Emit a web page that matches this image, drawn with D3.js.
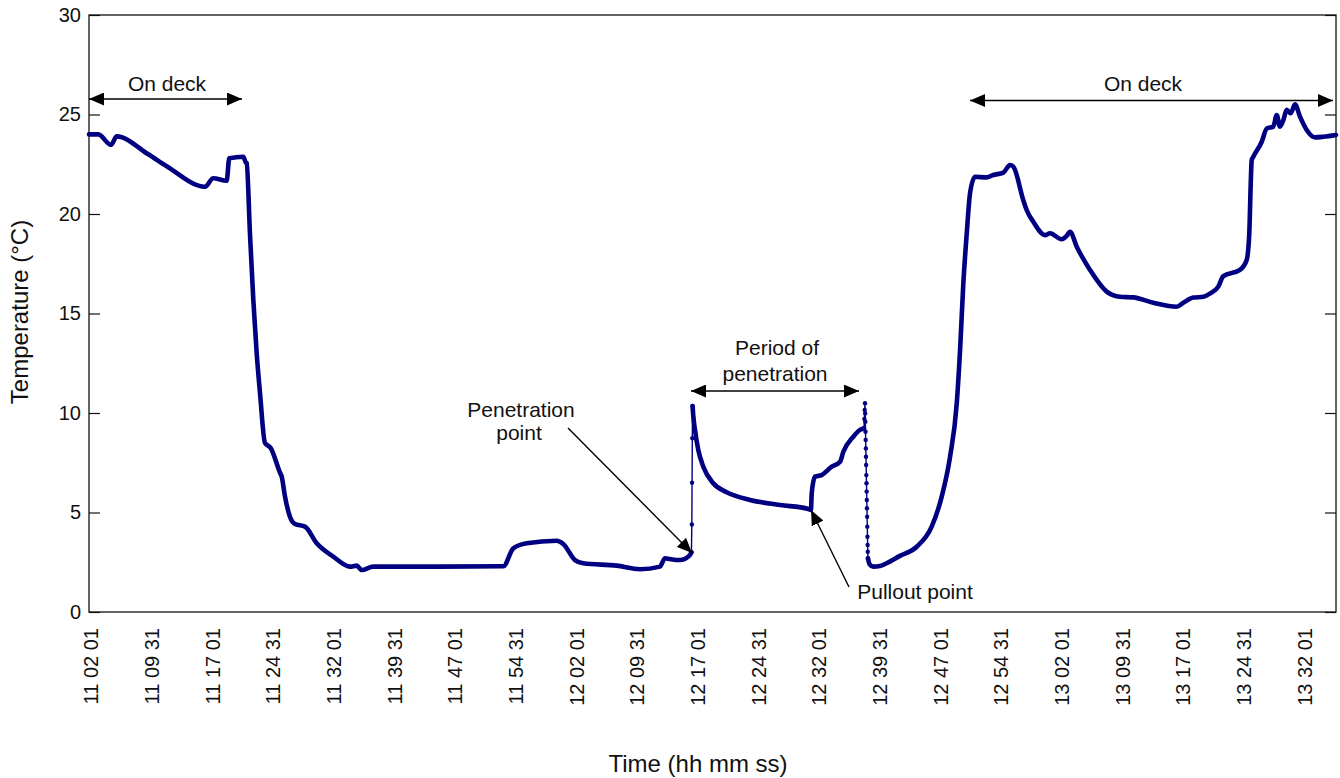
<!DOCTYPE html>
<html>
<head>
<meta charset="utf-8">
<script src="https://cdn.jsdelivr.net/npm/d3@7"></script>
<style>
  html, body { margin: 0; padding: 0; background: #fff; }
  svg { display: block; }
  text { font-family: "Liberation Sans", Arial, Helvetica, sans-serif; fill: #111; }
</style>
</head>
<body>
<svg id="chart" width="1340" height="778"></svg>
<script>
// Probe temperature log, time in minutes after 11:00:00
const minutes = [1.81, 2.96, 4.53, 5.23, 9.14, 11.41, 16.15, 17.17, 18.83, 19.15, 20.88, 21.18,
  21.30, 21.71, 22.12, 22.54, 22.95, 23.56, 24.27, 25.42, 25.63, 26.04, 26.65, 27.27, 28.51,
  29.96, 32.01, 34.07, 34.90, 35.52, 36.95, 45.00, 53.03, 54.26, 55.92, 59.63, 60.44, 61.88,
  62.91, 67.04, 69.92, 72.39, 73.01, 73.62, 74.86, 76.09, 76.28,
  76.42, 76.50, 76.72, 77.13, 77.75, 78.98, 80.64, 83.52, 87.23, 90.73, 91.06, 91.15, 91.56,
  92.38, 93.62, 94.65, 95.06, 96.29, 97.12, 97.61,
  98.10, 98.30, 98.77, 99.59, 100.42, 102.06, 104.13, 105.98, 107.22, 108.25, 109.08, 109.49,
  109.89, 110.31, 110.72, 111.34, 112.78, 113.60, 114.84, 115.66, 116.07, 117.30, 117.72,
  118.54, 119.99, 120.60, 122.05, 122.67, 123.08, 123.91, 125.55, 127.61, 129.26, 130.90,
  133.38, 136.27, 137.08, 138.32, 139.56, 140.38, 141.41, 142.03, 144.09, 144.92, 145.24,
  145.42, 145.54, 145.74, 146.78, 147.40, 148.21, 148.63, 149.04, 149.45, 149.87, 150.36,
  150.89, 151.51, 152.34, 153.36, 154.39, 155.96];
const tempC = [24.0, 24.0, 23.47, 23.9, 23.0, 22.4, 21.37, 21.8, 21.67, 22.8, 22.88, 22.6,
  22.56, 19.0, 15.7, 13.0, 11.0, 8.5, 8.24, 7.0, 6.8, 5.8, 4.79, 4.42, 4.29,
  3.45, 2.78, 2.28, 2.33, 2.11, 2.28, 2.28, 2.30, 3.2, 3.45, 3.58, 3.42, 2.61,
  2.45, 2.33, 2.15, 2.28, 2.7, 2.66, 2.61, 2.86, 3.0,
  10.35, 9.9, 9.15, 8.14, 7.3, 6.47, 6.02, 5.63, 5.38, 5.18, 5.13, 5.96, 6.8,
  6.88, 7.3, 7.55, 8.05, 8.81, 9.15, 9.23,
  2.70, 2.40, 2.28, 2.31, 2.45, 2.82, 3.28, 4.29, 5.8, 7.8, 10.49, 13.17,
  16.5, 19.0, 21.04, 21.87, 21.84, 21.96, 22.08, 22.46, 22.38, 20.7, 20.2,
  19.61, 18.94, 19.03, 18.73, 18.9, 19.11, 18.36, 17.19, 16.1, 15.84, 15.81,
  15.54, 15.34, 15.54, 15.8, 15.84, 16.0, 16.35, 16.88, 17.19, 17.69, 19.03,
  21.54, 22.71, 22.88, 23.63, 24.3, 24.39, 24.97, 24.39, 24.72, 25.23, 25.06,
  25.51, 24.89, 24.22, 23.85, 23.88, 23.97];

// Individual readings during the fast transitions (penetration and pullout)
const penetrationMinutes = [76.28, 76.33, 76.36, 76.39, 76.42];
const penetrationTemp = [3.0, 4.4, 6.5, 8.73, 10.35];
const pulloutMinutes = [97.61, 97.66, 97.70, 97.74, 97.76, 97.78, 97.80, 97.82, 97.84, 97.86,
  97.88, 97.90, 97.92, 97.94, 97.96, 97.98, 98.00, 98.02, 98.04, 98.06, 98.08, 98.10];
const pulloutTemp = [9.23, 9.7, 10.15, 10.49, 9.98, 9.56, 9.06, 8.64, 8.22, 7.80,
  7.39, 6.88, 6.47, 6.05, 5.63, 5.21, 4.79, 4.29, 3.78, 3.37, 3.03, 2.70];

const timeDomain = [1.81, 155.96];
const tickMinutes = [2.02, 9.52, 17.02, 24.52, 32.02, 39.52, 47.02, 54.52, 62.02, 69.52, 77.02,
  84.52, 92.02, 99.52, 107.02, 114.52, 122.02, 129.52, 137.02, 144.52, 152.02];
const tickLabels = ["11 02 01", "11 09 31", "11 17 01", "11 24 31", "11 32 01", "11 39 31",
  "11 47 01", "11 54 31", "12 02 01", "12 09 31", "12 17 01", "12 24 31", "12 32 01",
  "12 39 31", "12 47 01", "12 54 31", "13 02 01", "13 09 31", "13 17 01", "13 24 31", "13 32 01"];
const tempTicks = [0, 5, 10, 15, 20, 25, 30];

const svg = d3.select("#chart");
const plot = { left: 89, right: 1336, top: 15, bottom: 612 };
const navy = "#000080";

const x = d3.scaleLinear().domain(timeDomain).range([plot.left, plot.right]);
const y = d3.scaleLinear().domain([0, 30]).range([plot.bottom, plot.top]);

// arrow head marker
const defs = svg.append("defs");
defs.append("marker")
  .attr("id", "head")
  .attr("markerUnits", "userSpaceOnUse")
  .attr("viewBox", "0 0 15 13")
  .attr("markerWidth", 15).attr("markerHeight", 13)
  .attr("refX", 15).attr("refY", 6.5)
  .attr("orient", "auto-start-reverse")
  .append("path").attr("d", "M0,0 L15,6.5 L0,13 Z").attr("fill", "#000");

// left axis with inward ticks
const yAxisL = svg.append("g")
  .attr("transform", `translate(${plot.left},0)`)
  .call(d3.axisLeft(y).tickValues(tempTicks).tickSize(-11).tickPadding(8));
yAxisL.select(".domain").remove();
yAxisL.selectAll("line").attr("stroke", "#111").attr("stroke-width", 1.2);
yAxisL.selectAll("text").style("font-size", "20px").attr("fill", "#111");

// right axis, ticks only
const yAxisR = svg.append("g")
  .attr("transform", `translate(${plot.right},0)`)
  .call(d3.axisRight(y).tickValues(tempTicks).tickSize(-11).tickFormat(""));
yAxisR.select(".domain").remove();
yAxisR.selectAll("line").attr("stroke", "#111").attr("stroke-width", 1.2);

// bottom axis: rotated time labels
const xAxis = svg.append("g")
  .attr("transform", `translate(0,${plot.bottom})`)
  .call(d3.axisBottom(x).tickValues(tickMinutes).tickSize(0)
    .tickFormat((d, i) => tickLabels[i]));
xAxis.select(".domain").remove();
xAxis.selectAll("text")
  .style("font-size", "20px")
  .attr("fill", "#111")
  .attr("text-anchor", "end")
  .attr("transform", "rotate(-90)")
  .attr("x", -16)
  .attr("y", 0)
  .attr("dy", "0.35em");

// frame
svg.append("rect")
  .attr("x", plot.left).attr("y", plot.top)
  .attr("width", plot.right - plot.left).attr("height", plot.bottom - plot.top)
  .attr("fill", "none").attr("stroke", "#111").attr("stroke-width", 1.3);

// series
const series = minutes.map((m, i) => ({ m, t: tempC[i] }));
const penetration = penetrationMinutes.map((m, i) => ({ m, t: penetrationTemp[i] }));
const pullout = pulloutMinutes.map((m, i) => ({ m, t: pulloutTemp[i] }));

// split the continuous record where a fast transition sits between two readings
const jumps = [penetration, pullout];
const runs = [];
let run = [series[0]];
for (let i = 1; i < series.length; i++) {
  const a = series[i - 1], b = series[i];
  const gap = jumps.some(j => j[0].m === a.m && j[j.length - 1].m === b.m);
  if (gap) { runs.push(run); run = [b]; } else run.push(b);
}
runs.push(run);

const line = d3.line().x(d => x(d.m)).y(d => y(d.t)).curve(d3.curveMonotoneX);
const thinLine = d3.line().x(d => x(d.m)).y(d => y(d.t));

svg.append("g").selectAll("path.run").data(runs).join("path")
  .attr("class", "run")
  .attr("d", line)
  .attr("fill", "none").attr("stroke", navy)
  .attr("stroke-width", 4.6).attr("stroke-linejoin", "round").attr("stroke-linecap", "round");

jumps.forEach(j => {
  svg.append("path").attr("d", thinLine(j))
    .attr("fill", "none").attr("stroke", navy).attr("stroke-width", 1.4);
  svg.append("g").selectAll("circle").data(j).join("circle")
    .attr("cx", d => x(d.m)).attr("cy", d => y(d.t)).attr("r", 2.2).attr("fill", navy);
});

// annotations
function arrow(x1, y1, x2, y2, both) {
  const l = svg.append("line")
    .attr("x1", x1).attr("y1", y1).attr("x2", x2).attr("y2", y2)
    .attr("stroke", "#000").attr("stroke-width", 1.4)
    .attr("marker-end", "url(#head)");
  if (both) l.attr("marker-start", "url(#head)");
}
function label(txt, cx, by, anchor) {
  svg.append("text").attr("x", cx).attr("y", by)
    .attr("text-anchor", anchor || "middle")
    .style("font-size", "21px").text(txt);
}

arrow(89, 99, 242, 99, true);
label("On deck", 167, 91);

arrow(970, 100.5, 1333, 100.5, true);
label("On deck", 1143, 91);

arrow(691, 391, 859, 391, true);
label("Period of", 777, 355);
label("penetration", 775, 381);

arrow(568, 428, 692, 553, false);
label("Penetration", 521, 417);
label("point", 519, 440);

arrow(849, 587, 811, 510, false);
label("Pullout point", 915, 599);

// axis titles
svg.append("text")
  .attr("transform", "translate(28,312) rotate(-90)")
  .attr("text-anchor", "middle")
  .style("font-size", "24px")
  .text("Temperature (°C)");
svg.append("text")
  .attr("x", 698).attr("y", 772)
  .attr("text-anchor", "middle")
  .style("font-size", "24px")
  .text("Time (hh mm ss)");
</script>
</body>
</html>
